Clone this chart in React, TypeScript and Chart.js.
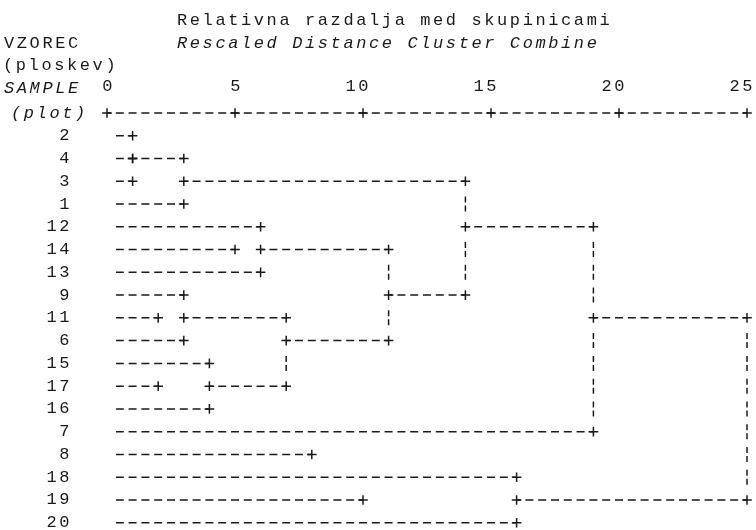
import React, { useEffect, useRef } from 'react';
import { Chart, registerables } from 'chart.js';

Chart.register(...registerables);

// ---- data -------------------------------------------------------------
const TITLE = 'Relativna razdalja med skupinicami';
const SUBTITLE = 'Rescaled Distance Cluster Combine';
const ROW_HEAD_1 = 'VZOREC';
const ROW_HEAD_2 = '(ploskev)';
const ROW_HEAD_3 = 'SAMPLE';
const ROW_HEAD_4 = '(plot)';

// samples, top to bottom
const ROW_LABELS = ['2', '4', '3', '1', '12', '14', '13', '9', '11', '6', '15', '17', '16', '7', '8', '18', '19', '20'];
// rescaled distance where each sample's own line ends
const LEAF_START = 0.35;
const LEAF_ENDS = [1, 1, 1, 3, 6, 5, 6, 3, 2, 3, 4, 2, 4, 19, 8, 16, 10, 16];
// joined-cluster lines: row index, start distance, end distance
const JOIN_ROWS = [1, 2, 5, 8, 9, 11, 7, 4, 8, 16];
const JOIN_FROM = [1, 3, 6, 3, 7, 4, 11, 14, 19, 16];
const JOIN_TO = [3, 14, 11, 7, 11, 7, 14, 19, 25, 25];
// vertical connectors: distance, first row, last row
const LINK_AT = [1, 3, 6, 3, 4, 7, 11, 14, 19, 16, 25];
const LINK_TOP = [0, 1, 4, 7, 10, 8, 5, 2, 4, 15, 8];
const LINK_BOTTOM = [2, 3, 6, 9, 12, 11, 9, 7, 13, 17, 16];
// axis
const AXIS_TICKS = [0, 5, 10, 15, 20, 25];
const AXIS_ROW = -1;

// ---- style ------------------------------------------------------------
const INK = '#1a1a1a';
const FONT_FAMILY = "'Liberation Mono', 'Courier New', monospace";
const FONT_SIZE = 17;
const SPACING = 2.6;
const PX_PER_UNIT = 25.6;
const CELL = 12.8;
const H_DASH = [8, 4.8];
const V_DASH = [6, 3, 6, 7.76];
const V_OFFSET = 18.88;

const hOffset = (from: number) => (((from * PX_PER_UNIT + 4) % CELL) + CELL) % CELL;

function buildDatasets() {
  const ds: any[] = [];
  const line = (pts: { x: number; y: number }[], dash: number[], offset: number) => ({
    type: 'line',
    data: pts,
    borderColor: INK,
    borderWidth: 1.5,
    borderDash: dash,
    borderDashOffset: offset,
    pointRadius: 0,
    fill: false,
    tension: 0,
    clip: false,
  });
  // axis row
  ds.push(line(AXIS_TICKS.map((x) => ({ x, y: AXIS_ROW })), H_DASH, hOffset(0)));
  // leaves
  LEAF_ENDS.forEach((end, r) => {
    ds.push(line([{ x: LEAF_START, y: r }, { x: end, y: r }], H_DASH, hOffset(LEAF_START)));
  });
  // joins
  JOIN_ROWS.forEach((r, i) => {
    ds.push(line([{ x: JOIN_FROM[i], y: r }, { x: JOIN_TO[i], y: r }], H_DASH, hOffset(JOIN_FROM[i])));
  });
  // verticals
  LINK_AT.forEach((x, i) => {
    const top = LINK_TOP[i];
    const bottom = LINK_BOTTOM[i];
    const stops = [top];
    JOIN_ROWS.forEach((r, j) => {
      if (JOIN_FROM[j] === x && r > top && r < bottom) stops.push(r);
    });
    stops.push(bottom);
    stops.sort((a, b) => a - b);
    for (let k = 0; k < stops.length - 1; k++) {
      const a = stops[k];
      const b = stops[k + 1];
      if (b - a > 1) {
        ds.push(line([{ x, y: a + 0.5 }, { x, y: b - 0.5 }], V_DASH, V_OFFSET));
      }
    }
  });
  // plus marks
  const plus: { x: number; y: number }[] = [];
  AXIS_TICKS.forEach((x) => plus.push({ x, y: AXIS_ROW }));
  LEAF_ENDS.forEach((x, r) => plus.push({ x, y: r }));
  JOIN_ROWS.forEach((r, i) => {
    plus.push({ x: JOIN_FROM[i], y: r });
    plus.push({ x: JOIN_TO[i], y: r });
  });
  ds.push({
    type: 'scatter',
    data: plus,
    showLine: false,
    pointStyle: 'cross',
    pointRadius: 4.8,
    pointBorderWidth: 1.5,
    pointBorderColor: INK,
    pointBackgroundColor: INK,
    clip: false,
  });
  return ds;
}

const monoSpacing = {
  id: 'monoSpacing',
  beforeDraw(chart: any) {
    chart.ctx.letterSpacing = SPACING + 'px';
  },
  afterDraw(chart: any) {
    chart.ctx.letterSpacing = '0px';
  },
};

const textStyle: React.CSSProperties = {
  position: 'absolute',
  fontFamily: FONT_FAMILY,
  fontSize: FONT_SIZE,
  lineHeight: '20px',
  letterSpacing: SPACING + 'px',
  whiteSpace: 'pre',
  color: INK,
};

export default function App() {
  const ref = useRef<HTMLCanvasElement>(null);

  useEffect(() => {
    if (!ref.current) return;
    const font = { family: FONT_FAMILY, size: FONT_SIZE };
    const chart = new Chart(ref.current, {
      type: 'line',
      data: { datasets: buildDatasets() },
      options: {
        animation: false,
        responsive: false,
        devicePixelRatio: 1,
        layout: { autoPadding: false, padding: { left: 0, right: 9, top: 0, bottom: 0 } },
        plugins: { legend: { display: false }, tooltip: { enabled: false }, title: { display: false } },
        scales: {
          x: {
            type: 'linear',
            position: 'top',
            min: AXIS_TICKS[0],
            max: AXIS_TICKS[AXIS_TICKS.length - 1],
            afterBuildTicks: (s: any) => {
              s.ticks = AXIS_TICKS.map((v) => ({ value: v }));
            },
            afterFit: (s: any) => {
              s.height = 113;
              s.paddingLeft = 0;
              s.paddingRight = 0;
              s.paddingTop = 0;
              s.paddingBottom = 0;
            },
            grid: { display: false, drawTicks: false },
            border: { display: false },
            ticks: {
              align: 'end',
              labelOffset: 8,
              padding: 16,
              font,
              color: INK,
              maxRotation: 0,
              autoSkip: false,
            },
          },
          y: {
            type: 'linear',
            reverse: true,
            min: AXIS_ROW,
            max: ROW_LABELS.length - 1 + 0.32,
            afterBuildTicks: (s: any) => {
              s.ticks = ROW_LABELS.map((_, i) => ({ value: i }));
            },
            afterFit: (s: any) => {
              s.width = 107;
              s.paddingLeft = 0;
              s.paddingRight = 0;
              s.paddingTop = 0;
              s.paddingBottom = 0;
            },
            grid: { display: false, drawTicks: false },
            border: { display: false },
            ticks: {
              callback: (v: any) => ROW_LABELS[v as number] ?? '',
              padding: 35,
              font,
              color: INK,
              autoSkip: false,
            },
          },
        },
      } as any,
      plugins: [monoSpacing],
    } as any);
    return () => chart.destroy();
  }, []);

  return (
    <div style={{ position: 'relative', width: 756, height: 530, background: '#fff', overflow: 'hidden' }}>
      <style>{'body{margin:0}'}</style>
      <canvas ref={ref} width={756} height={530} style={{ position: 'absolute', left: 0, top: 0 }} />
      <div style={{ ...textStyle, left: 177, top: 11 }}>{TITLE}</div>
      <div style={{ ...textStyle, left: 177, top: 33.5, fontStyle: 'italic' }}>{SUBTITLE}</div>
      <div style={{ ...textStyle, left: 4, top: 33.5 }}>{ROW_HEAD_1}</div>
      <div style={{ ...textStyle, left: 3, top: 56 }}>{ROW_HEAD_2}</div>
      <div style={{ ...textStyle, left: 4, top: 78.5, fontStyle: 'italic' }}>{ROW_HEAD_3}</div>
      <div style={{ ...textStyle, left: 11, top: 104, fontStyle: 'italic' }}>{ROW_HEAD_4}</div>
    </div>
  );
}
